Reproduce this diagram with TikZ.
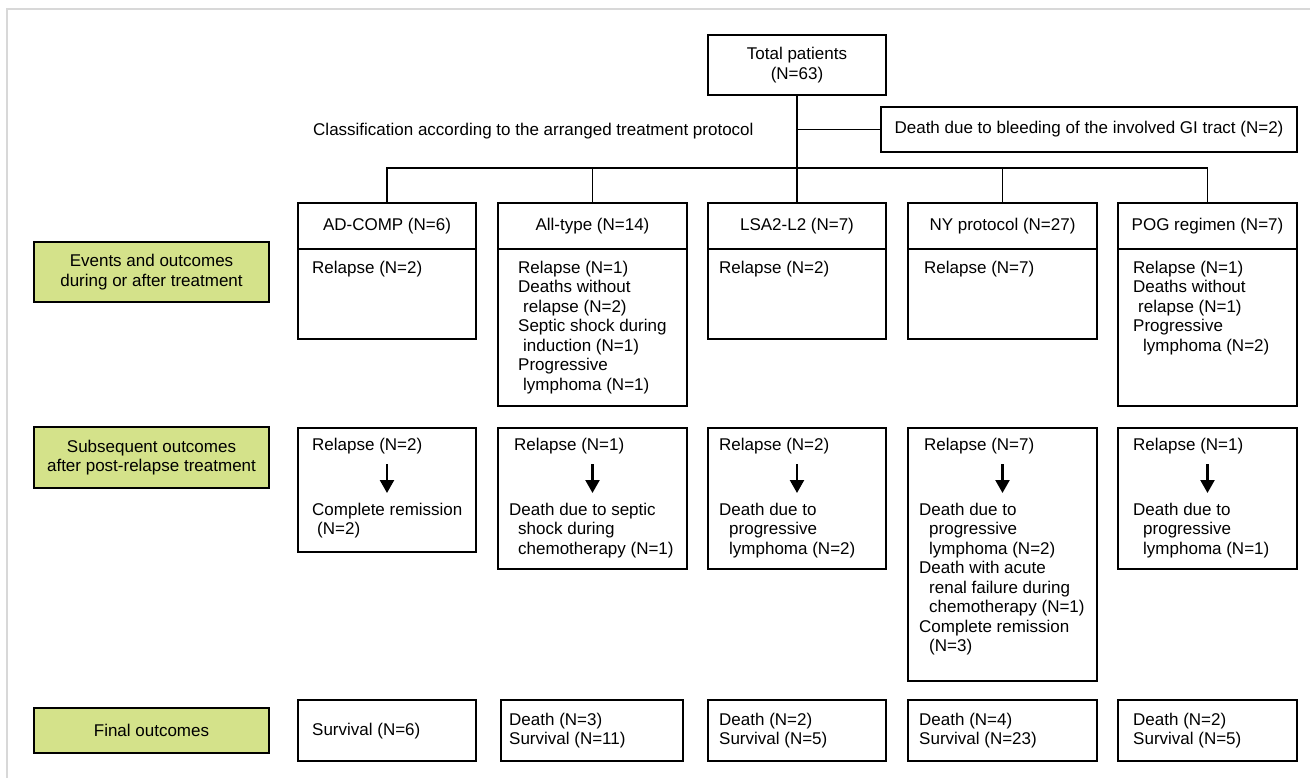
\documentclass[tikz,border=0pt]{standalone}
\usepackage{fontspec}
\setmainfont{Liberation Sans}
\usetikzlibrary{arrows.meta}
\definecolor{labelgreen}{RGB}{212,226,138}
\definecolor{framegray}{RGB}{216,216,216}

\begin{document}
\begin{tikzpicture}[x=1pt,y=-1pt,
        every node/.style={font=\fontsize{17}{19.5}\selectfont},
        box/.style={draw=black, line width=1.2pt, inner sep=0pt, outer sep=0pt, anchor=north west},
        sidebox/.style={box, fill=labelgreen, minimum width=235pt, align=center},
        txt/.style={anchor=north west, inner sep=0pt, align=left},
        link/.style={line width=1.2pt},
        downarr/.style={line width=2.3pt, -{Triangle[length=13pt,width=14pt]}}]
        \useasboundingbox (0,0) rectangle (1310,778);
        \draw [framegray, line width=2pt] (7,778) -- (7,9) -- (1310,9);

        \node[box, minimum width=178pt, minimum height=60pt, align=center] (tot) at (708,35) {Total patients\\(N=63)};
        \node[box, minimum width=416pt, minimum height=45pt] (gi) at (881,107) {Death due to bleeding of the involved GI tract (N=2)};
        \node[txt] (cls) at (313,122.6) {Classification according to the arranged treatment protocol};

        \node[sidebox, minimum height=60pt] (ev) at (34,242) {Events and outcomes\\during or after treatment};
        \node[sidebox, minimum height=61pt] (sub) at (34,427) {Subsequent outcomes\\after post-relapse treatment};
        \node[sidebox, minimum height=45pt] (fin) at (34,708) {Final outcomes};

        % protocol columns
        \foreach \nm/\xx/\ww/\lab in {ad/298/178/AD-COMP (N=6), all/498/189/All-type (N=14), lsa/708/178/LSA2-L2 (N=7), ny/908/189/NY protocol (N=27), pog/1118/179/POG regimen (N=7)} {
            \node[box, minimum width=\ww pt, minimum height=46pt] (\nm-h) at (\xx,203) {\lab};
        }
        \foreach \nm/\xx/\ww/\hh in {ad/298/178/90, all/498/189/157, lsa/708/178/90, ny/908/189/90, pog/1118/179/157} {
            \node[box, minimum width=\ww pt, minimum height=\hh pt] (\nm-b) at (\xx,249) {};
        }
        \foreach \nm/\xx/\ww/\hh in {ad/298/178/124, all/498/189/141, lsa/708/178/141, ny/908/189/253, pog/1118/179/141} {
            \node[box, minimum width=\ww pt, minimum height=\hh pt] (\nm-s) at (\xx,428) {};
        }
        \foreach \nm/\xx/\ww in {ad/298/178, all/501/182, lsa/708/178, ny/908/189, pog/1118/179} {
            \node[box, minimum width=\ww pt, minimum height=61pt] (\nm-f) at (\xx,700) {};
        }
        \foreach \nm in {ad,all,lsa,ny,pog} {
            \draw [downarr] (\nm-s.north) ++(0,36) -- ++(0,29);
        }

        \draw [link] (tot.south) -- (lsa-h.north);
        \draw [link] (tot.south |- gi.west) -- (gi.west);
        \draw [link] (ad-h.north) -- ++(0,-35) -| (pog-h.north);
        \draw [link] (all-h.north) -- ++(0,-35);
        \draw [link] (ny-h.north) -- ++(0,-35);

        % events
        \node[txt] (ad-e) at (312,260.6) {Relapse (N=2)};
        \node[txt] (all-e) at (518,260.6) {Relapse (N=1)\\Deaths without\\\hspace*{5pt}relapse (N=2)\\Septic shock during\\\hspace*{5pt}induction (N=1)\\Progressive\\\hspace*{5pt}lymphoma (N=1)};
        \node[txt] (lsa-e) at (719,260.6) {Relapse (N=2)};
        \node[txt] (ny-e) at (924,260.6) {Relapse (N=7)};
        \node[txt] (pog-e) at (1133,260.6) {Relapse (N=1)\\Deaths without\\\hspace*{5pt}relapse (N=1)\\Progressive\\\hspace*{10pt}lymphoma (N=2)};

        % after relapse
        \node[txt] (ad-r) at (312,437.6) {Relapse (N=2)};
        \node[txt] (all-r) at (514,437.6) {Relapse (N=1)};
        \node[txt] (lsa-r) at (719,437.6) {Relapse (N=2)};
        \node[txt] (ny-r) at (924,437.6) {Relapse (N=7)};
        \node[txt] (pog-r) at (1133,437.6) {Relapse (N=1)};
        \node[txt] (ad-o) at (312,502.6) {Complete remission\\\hspace*{5pt}(N=2)};
        \node[txt] (all-o) at (509,502.6) {Death due to septic\\\hspace*{9pt}shock during\\\hspace*{9pt}chemotherapy (N=1)};
        \node[txt] (lsa-o) at (719,502.6) {Death due to\\\hspace*{10pt}progressive\\\hspace*{10pt}lymphoma (N=2)};
        \node[txt] (ny-o) at (919,502.6) {Death due to\\\hspace*{10pt}progressive\\\hspace*{10pt}lymphoma (N=2)\\Death with acute\\\hspace*{10pt}renal failure during\\\hspace*{10pt}chemotherapy (N=1)\\Complete remission\\\hspace*{10pt}(N=3)};
        \node[txt] (pog-o) at (1133,502.6) {Death due to\\\hspace*{10pt}progressive\\\hspace*{10pt}lymphoma (N=1)};

        % final
        \node[txt] (ad-t) at (312,722.6) {Survival (N=6)};
        \node[txt] (all-t) at (509,712.6) {Death (N=3)\\Survival (N=11)};
        \node[txt] (lsa-t) at (719,712.6) {Death (N=2)\\Survival (N=5)};
        \node[txt] (ny-t) at (919,712.6) {Death (N=4)\\Survival (N=23)};
        \node[txt] (pog-t) at (1133,712.6) {Death (N=2)\\Survival (N=5)};
    \end{tikzpicture}
\end{document}
